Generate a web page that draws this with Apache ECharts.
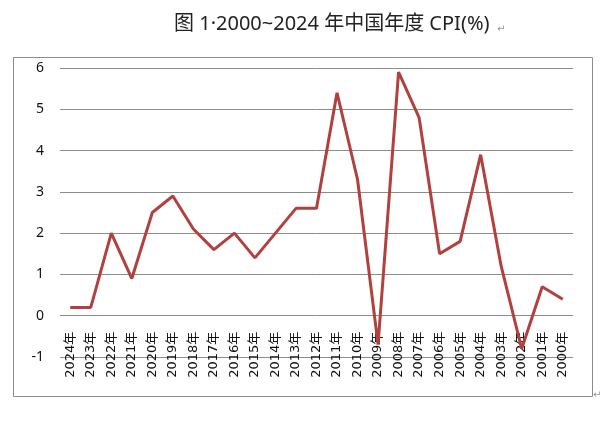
<!DOCTYPE html>
<html>
<head>
<meta charset="utf-8">
<script src="https://cdn.jsdelivr.net/npm/echarts@6/dist/echarts.min.js"></script>
<style>
html,body{margin:0;padding:0;background:#fff;}
#chart{width:604px;height:445px;}
</style>
</head>
<body>
<div id="chart"></div>
<script>
// 年份（从2024到2000）
var years = ['2024年','2023年','2022年','2021年','2020年','2019年','2018年','2017年','2016年',
    '2015年','2014年','2013年','2012年','2011年','2010年','2009年','2008年','2007年',
    '2006年','2005年','2004年','2003年','2002年','2001年','2000年'];
// CPI 数值
var cpi = [0.2, 0.2, 2.0, 0.9, 2.5, 2.9, 2.1, 1.6, 2.0, 1.4, 2.0, 2.6, 2.6, 5.4, 3.3, -0.7,
    5.9, 4.8, 1.5, 1.8, 3.9, 1.2, -0.8, 0.7, 0.4];
var yMin = -1, yMax = 6, yStep = 1;

var gridTop = 68, gridBottom = 88;
// 分类轴放在 0 处：向上偏移一个刻度的高度
var unitPx = (445 - gridTop - gridBottom) / (yMax - yMin);

var chart = echarts.init(document.getElementById('chart'));
var option = {
    animation: false,
    backgroundColor: '#fff',
    graphic: [
        {
            type: 'rect',
            shape: {x: 13.5, y: 57.5, width: 579, height: 339},
            style: {fill: 'none', stroke: '#8c8c8c', lineWidth: 1}
        },
        {
            type: 'text',
            left: 174, top: 14,
            style: {
                text: '图 1·2000~2024 年中国年度 CPI(%)',
                font: '20px "Noto Sans", "Noto Sans CJK SC"',
                fill: '#222'
            }
        },
        {
            type: 'text',
            left: 497, top: 24,
            style: {text: '↵', font: '10px "DejaVu Sans"', fill: '#999'}
        },
        {
            type: 'text',
            left: 593, top: 390,
            style: {text: '↵', font: '10px "DejaVu Sans"', fill: '#999'}
        }
    ],
    grid: {
        left: 60,
        right: 31,
        top: gridTop,
        bottom: gridBottom
    },
    xAxis: {
        type: 'category',
        data: years,
        boundaryGap: true,
        position: 'bottom',
        offset: -unitPx * (0 - yMin),
        axisLine: {show: false, onZero: false},
        axisTick: {show: false},
        axisLabel: {
            interval: 0,
            rotate: 90,
            margin: 16,
            color: '#111',
            fontSize: 13,
            fontFamily: '"DejaVu Sans", "Noto Sans CJK SC"'
        },
        splitLine: {show: false}
    },
    yAxis: {
        type: 'value',
        min: yMin,
        max: yMax,
        interval: yStep,
        axisLine: {show: false},
        axisTick: {show: false},
        axisLabel: {
            margin: 16,
            color: '#111',
            fontSize: 14,
            fontFamily: '"Noto Sans", "Noto Sans CJK SC"'
        },
        splitLine: {show: true, lineStyle: {color: '#8c8c8c', width: 1}}
    },
    series: [
        {
            name: 'CPI',
            type: 'line',
            data: cpi,
            symbol: 'none',
            lineStyle: {color: '#b0413e', width: 3},
            itemStyle: {color: '#b0413e'}
        }
    ]
};
chart.setOption(option);
</script>
</body>
</html>
